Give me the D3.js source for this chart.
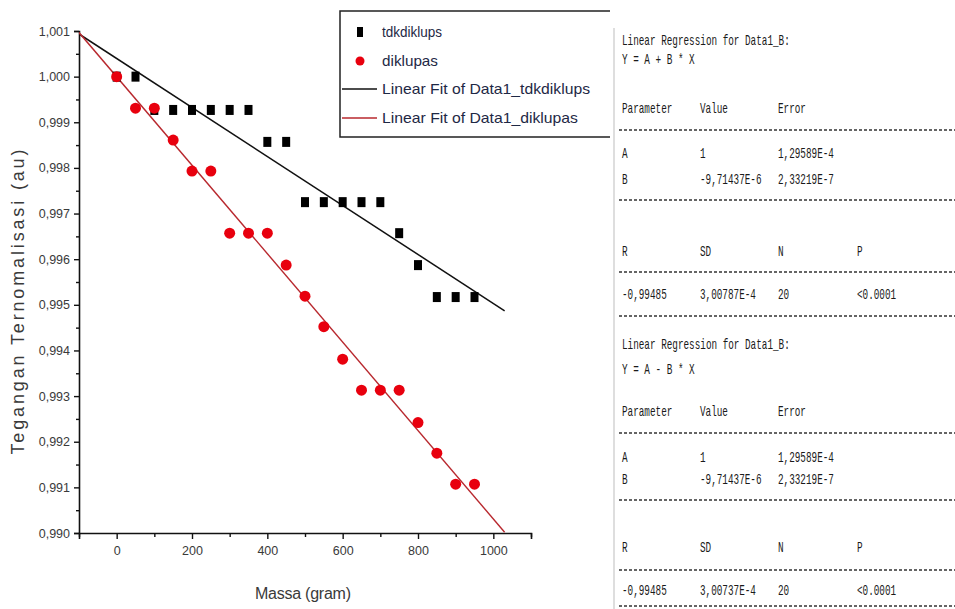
<!DOCTYPE html>
<html>
<head>
<meta charset="utf-8">
<script src="https://cdn.jsdelivr.net/npm/d3@7/dist/d3.min.js"></script>
<style>
  html, body { margin: 0; padding: 0; background: #fff; }
  svg { display: block; }
</style>
</head>
<body>
<div id="chart"></div>
<script>
// massa (gram)
var massa = [0, 50, 100, 150, 200, 250, 300, 350, 400, 450, 500, 550, 600, 650, 700, 750, 800, 850, 900, 950];
// tegangan ternomalisasi, tidak diklupas (black squares)
var tdkdiklups = [1.0000, 1.0000, 0.99927, 0.99927, 0.99927, 0.99927, 0.99927, 0.99927, 0.99857, 0.99857,
                  0.99725, 0.99725, 0.99725, 0.99725, 0.99725, 0.99657, 0.99587, 0.99517, 0.99517, 0.99517];
// tegangan ternomalisasi, diklupas (red circles)
var diklupas = [1.0000, 0.99931, 0.99931, 0.99861, 0.99793, 0.99793, 0.99657, 0.99657, 0.99657, 0.99587,
                0.99519, 0.99452, 0.99381, 0.99313, 0.99313, 0.99313, 0.99242, 0.99175, 0.99107, 0.99107];

var xTicks = [0, 200, 400, 600, 800, 1000];
var xMinorTicks = [-100, 100, 300, 500, 700, 900, 1100];
var yTicks = [0.990, 0.991, 0.992, 0.993, 0.994, 0.995, 0.996, 0.997, 0.998, 0.999, 1.000, 1.001];
var fitRange = [-100, 1030];

var legendLabels = ["tdkdiklups", "diklupas", "Linear Fit of Data1_tdkdiklups", "Linear Fit of Data1_diklupas"];

// regression report text (two blocks)
var reportTitle = ["Linear Regression for Data1_B:", "Linear Regression for Data1_B:"];
var reportModel = ["Y = A + B * X", "Y = A - B * X"];
var paramHead = ["Parameter", "Value", "Error"];
var paramRows = [
  [["A", "1", "1,29589E-4"], ["B", "-9,71437E-6", "2,33219E-7"]],
  [["A", "1", "1,29589E-4"], ["B", "-9,71437E-6", "2,33219E-7"]]
];
var statHead = ["R", "SD", "N", "P"];
var statRows = [
  ["-0,99485", "3,00787E-4", "20", "<0.0001"],
  ["-0,99485", "3,00737E-4", "20", "<0.0001"]
];

var width = 955, height = 609;
var svg = d3.select("#chart").append("svg")
    .attr("width", width)
    .attr("height", height);

var x = d3.scaleLinear().domain([-100, 1100]).range([79, 531]);
var y = d3.scaleLinear().domain([0.990, 1.001]).range([533, 31]);

var fmt = function(d) { return d3.format(".3f")(d).replace(".", ","); };

// axes
var yAxis = svg.append("g")
    .attr("transform", "translate(" + x(-100) + ",0)")
    .call(d3.axisLeft(y).tickValues(yTicks).tickSize(5).tickPadding(4).tickFormat(fmt));
var yMinor = svg.append("g")
    .attr("transform", "translate(" + x(-100) + ",0)")
    .call(d3.axisLeft(y).tickValues(yTicks.slice(0, -1).map(function(d) { return d + 0.0005; }))
        .tickSize(3).tickFormat(""));
yMinor.select(".domain").remove();

var xAxis = svg.append("g")
    .attr("transform", "translate(0," + y(0.990) + ")")
    .call(d3.axisBottom(x).tickValues(xTicks).tickSize(6).tickPadding(7).tickFormat(d3.format("d")));
var xMinor = svg.append("g")
    .attr("transform", "translate(0," + y(0.990) + ")")
    .call(d3.axisBottom(x).tickValues(xMinorTicks).tickSize(4).tickFormat(""));
xMinor.select(".domain").remove();

svg.selectAll(".domain").attr("stroke", "#111").attr("stroke-width", 1.6);
svg.selectAll(".tick line").attr("stroke", "#111").attr("stroke-width", 1.4);
svg.selectAll(".tick text")
    .attr("font-family", "Liberation Sans, Arial, sans-serif")
    .attr("font-size", 12.5)
    .attr("fill", "#3a3a3a");

// axis titles
svg.append("text")
    .attr("transform", "translate(24," + 302 + ") rotate(-90)")
    .attr("text-anchor", "middle")
    .attr("font-family", "Liberation Sans, Arial, sans-serif")
    .attr("font-size", 18)
    .attr("fill", "#3a3a3a")
    .attr("textLength", 305)
    .attr("lengthAdjust", "spacing")
    .text("Tegangan Ternomalisasi (au)");

svg.append("text")
    .attr("x", 303)
    .attr("y", 599)
    .attr("text-anchor", "middle")
    .attr("font-family", "Liberation Sans, Arial, sans-serif")
    .attr("font-size", 16)
    .attr("fill", "#3a3a3a")
    .attr("textLength", 96)
    .attr("lengthAdjust", "spacing")
    .text("Massa (gram)");

// least squares fits from the data
function linFit(xs, ys) {
    var mx = d3.mean(xs), my = d3.mean(ys);
    var sxy = d3.sum(xs, function(v, i) { return (v - mx) * (ys[i] - my); });
    var sxx = d3.sum(xs, function(v) { return (v - mx) * (v - mx); });
    var b = sxy / sxx;
    return { a: my - b * mx, b: b };
}
var fitBlack = linFit(massa, tdkdiklups);
var fitRed = linFit(massa, diklupas);

svg.append("clipPath").attr("id", "plotclip")
    .append("rect")
    .attr("x", x(-100)).attr("y", y(1.001))
    .attr("width", x(1100) - x(-100)).attr("height", y(0.990) - y(1.001));

var line = d3.line()
    .x(function(d) { return x(d[0]); })
    .y(function(d) { return y(d[1]); });

var plot = svg.append("g").attr("clip-path", "url(#plotclip)");

plot.append("path")
    .attr("d", line(fitRange.map(function(v) { return [v, fitBlack.a + fitBlack.b * v]; })))
    .attr("fill", "none")
    .attr("stroke", "#111")
    .attr("stroke-width", 1.5);

plot.append("path")
    .attr("d", line(fitRange.map(function(v) { return [v, fitRed.a + fitRed.b * v]; })))
    .attr("fill", "none")
    .attr("stroke", "#b8282e")
    .attr("stroke-width", 1.4);

// data points
svg.selectAll("rect.sq")
    .data(massa)
    .enter().append("rect")
    .attr("class", "sq")
    .attr("x", function(d) { return x(d) - 4; })
    .attr("y", function(d, i) { return y(tdkdiklups[i]) - 5; })
    .attr("width", 8)
    .attr("height", 10)
    .attr("fill", "#000");

svg.selectAll("circle.dot")
    .data(massa)
    .enter().append("circle")
    .attr("class", "dot")
    .attr("cx", function(d) { return x(d); })
    .attr("cy", function(d, i) { return y(diklupas[i]); })
    .attr("r", 5.5)
    .attr("fill", "#e8000e");

// legend
var legend = svg.append("g");
legend.append("path")
    .attr("d", "M610,11H340V137H610")
    .attr("fill", "#fff")
    .attr("stroke", "#222")
    .attr("stroke-width", 1.5);

var legendY = [32, 61, 89, 118];
legend.append("rect").attr("x", 357).attr("y", legendY[0] - 5).attr("width", 6).attr("height", 10).attr("fill", "#000");
legend.append("circle").attr("cx", 360).attr("cy", legendY[1]).attr("r", 4.5).attr("fill", "#e8000e");
legend.append("line").attr("x1", 342).attr("x2", 377).attr("y1", legendY[2]).attr("y2", legendY[2])
    .attr("stroke", "#111").attr("stroke-width", 1.5);
legend.append("line").attr("x1", 342).attr("x2", 377).attr("y1", legendY[3]).attr("y2", legendY[3])
    .attr("stroke", "#b8282e").attr("stroke-width", 1.5);

var legendLen = [60, 56, 208, 196];
legend.selectAll("text")
    .data(legendLabels)
    .enter().append("text")
    .attr("x", 382)
    .attr("y", function(d, i) { return legendY[i] + 5; })
    .attr("font-family", "Liberation Sans, Arial, sans-serif")
    .attr("font-size", 15)
    .attr("fill", "#1e2845")
    .attr("textLength", function(d, i) { return legendLen[i]; })
    .attr("lengthAdjust", "spacingAndGlyphs")
    .text(function(d) { return d; });

// regression report panel
var panel = svg.append("g");
panel.append("line")
    .attr("x1", 614).attr("x2", 614).attr("y1", 28).attr("y2", 609)
    .attr("stroke", "#c8c8c8").attr("stroke-width", 1.2);

var cols = [622, 700, 778, 857];
// narrow pixel-ish font: monospace squeezed horizontally
function txt(g, s, xx, yy) {
    g.append("text")
        .attr("transform", "translate(" + xx + "," + yy + ") scale(0.667,1)")
        .attr("font-family", "Liberation Mono, DejaVu Sans Mono, monospace")
        .attr("font-size", 14)
        .attr("fill", "#1a1a1a")
        .text(s);
}
function dash(g, yy) {
    g.append("line")
        .attr("x1", 619).attr("x2", 955).attr("y1", yy).attr("y2", yy)
        .attr("stroke", "#333").attr("stroke-width", 1.3)
        .attr("stroke-dasharray", "3,2");
}

var blockRows = [
  { title: 45, model: 64, head: 113, d1: 130, p: [158, 184], d2: 200, sh: 256, d3: 272, sv: 299, d4: 316 },
  { title: 349, model: 374, head: 416, d1: 433, p: [462, 484], d2: 500, sh: 552, d3: 570, sv: 595, d4: 606 }
];

blockRows.forEach(function(r, k) {
    txt(panel, reportTitle[k], cols[0], r.title);
    txt(panel, reportModel[k], cols[0], r.model);
    paramHead.forEach(function(s, j) { txt(panel, s, cols[j], r.head); });
    dash(panel, r.d1);
    paramRows[k].forEach(function(row, i) {
        row.forEach(function(s, j) { txt(panel, s, cols[j], r.p[i]); });
    });
    dash(panel, r.d2);
    statHead.forEach(function(s, j) { txt(panel, s, cols[j], r.sh); });
    dash(panel, r.d3);
    statRows[k].forEach(function(s, j) { txt(panel, s, cols[j], r.sv); });
    dash(panel, r.d4);
});
</script>
</body>
</html>
